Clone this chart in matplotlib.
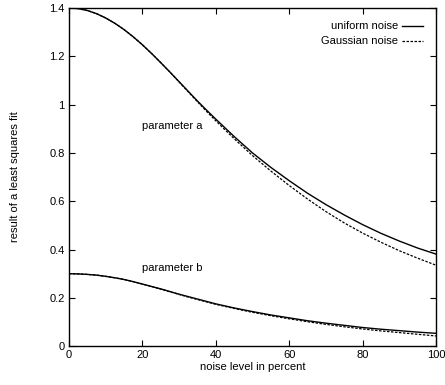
import matplotlib
matplotlib.use("Agg")
import matplotlib.pyplot as plt
from matplotlib.ticker import FuncFormatter

plt.rcParams['font.family'] = ['Liberation Sans', 'DejaVu Sans']

# noise level in percent
noise = [0, 2.5, 5, 7.5, 10, 12.5, 15, 17.5, 20, 22.5, 25, 27.5, 30, 32.5, 35, 37.5, 40,
         45, 50, 55, 60, 65, 70, 75, 80, 85, 90, 95, 100]

# parameter a
a_uniform = [1.400, 1.398, 1.390, 1.377, 1.359, 1.337, 1.311, 1.281, 1.248, 1.212, 1.174,
             1.135, 1.095, 1.055, 1.015, 0.977, 0.940, 0.868, 0.800, 0.740, 0.685, 0.633,
             0.586, 0.543, 0.503, 0.467, 0.435, 0.406, 0.381]
a_gauss = [1.400, 1.398, 1.390, 1.377, 1.359, 1.337, 1.311, 1.281, 1.248, 1.212, 1.174,
           1.135, 1.094, 1.053, 1.012, 0.972, 0.933, 0.859, 0.789, 0.725, 0.665, 0.609,
           0.557, 0.510, 0.468, 0.430, 0.395, 0.364, 0.335]

# parameter b
b_uniform = [0.300, 0.299, 0.297, 0.294, 0.289, 0.283, 0.276, 0.267, 0.257, 0.247, 0.237,
             0.226, 0.215, 0.205, 0.195, 0.185, 0.175, 0.158, 0.143, 0.129, 0.117, 0.105,
             0.095, 0.086, 0.077, 0.070, 0.064, 0.058, 0.053]
b_gauss = [0.300, 0.299, 0.297, 0.294, 0.289, 0.283, 0.276, 0.267, 0.257, 0.247, 0.236,
           0.225, 0.214, 0.203, 0.193, 0.183, 0.173, 0.156, 0.140, 0.126, 0.113, 0.101,
           0.090, 0.080, 0.071, 0.063, 0.056, 0.049, 0.042]

fig = plt.figure(figsize=(4.45, 3.85), dpi=100)
ax = fig.add_axes([0.155, 0.101, 0.825, 0.878])

dash = (0, (2.0, 1.2))
ax.plot(noise, a_uniform, color="black", lw=1.0, label="uniform noise")
ax.plot(noise, a_gauss, color="black", lw=0.9, linestyle=dash, label="Gaussian noise")
ax.plot(noise, b_uniform, color="black", lw=1.0)
ax.plot(noise, b_gauss, color="black", lw=0.9, linestyle=dash)

ax.text(20, 0.91, "parameter a", fontsize=8, va="center", ha="left")
ax.text(20, 0.325, "parameter b", fontsize=8, va="center", ha="left")

ax.set_xlim(0, 100)
ax.set_ylim(0, 1.4)
ax.set_xticks([0, 20, 40, 60, 80, 100])
ax.set_yticks([0, 0.2, 0.4, 0.6, 0.8, 1.0, 1.2, 1.4])
ax.yaxis.set_major_formatter(FuncFormatter(lambda v, p: "%g" % round(v, 2)))
ax.tick_params(direction="in", top=True, right=True, length=4, width=0.8,
               labelsize=8, pad=3)
for s in ax.spines.values():
    s.set_linewidth(1.0)

ax.set_xlabel("noise level in percent", fontsize=8, labelpad=1)
ax.set_ylabel("result of a least squares fit", fontsize=8, labelpad=21)

ax.legend(loc="upper right", frameon=False, fontsize=8, markerfirst=False,
          handlelength=1.9, handletextpad=0.35, labelspacing=0.45,
          borderaxespad=0.8)

fig.savefig("out.png", dpi=100)
